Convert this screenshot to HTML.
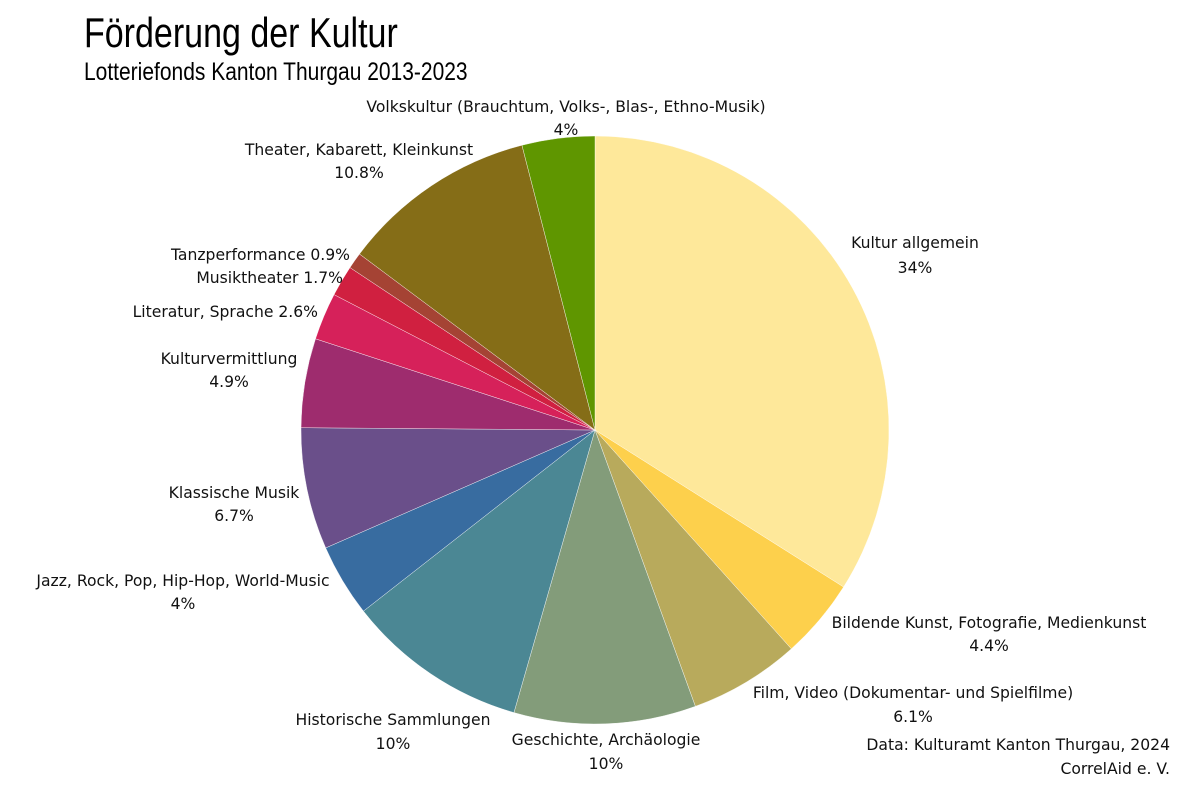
<!DOCTYPE html>
<html><head><meta charset="utf-8"><style>
body{margin:0;background:#fff;width:1186px;height:790px;overflow:hidden}
svg text{font-family:"DejaVu Sans","Liberation Sans",sans-serif;font-size:15.6px;fill:#111}
.t{font-family:"Liberation Sans",sans-serif!important;font-size:42px;fill:#000}
.s{font-family:"Liberation Sans",sans-serif!important;font-size:25px;fill:#000}
</style></head><body>
<svg id="c" width="1186" height="790" xmlns="http://www.w3.org/2000/svg">
<text class="t" x="84" y="47" transform="translate(84 0) scale(0.81 1) translate(-84 0)">Förderung der Kultur</text>
<text class="s" x="84" y="80" transform="translate(84 0) scale(0.84 1) translate(-84 0)">Lotteriefonds Kanton Thurgau 2013-2023</text>
<g id="pie"></g>
<g text-anchor="middle">
<text x="566" y="112">Volkskultur (Brauchtum, Volks-, Blas-, Ethno-Musik)</text>
<text x="566" y="135">4%</text>
<text x="359" y="155">Theater, Kabarett, Kleinkunst</text>
<text x="359" y="178">10.8%</text>
<text x="915" y="248">Kultur allgemein</text>
<text x="915" y="273">34%</text>
<text x="989" y="628">Bildende Kunst, Fotografie, Medienkunst</text>
<text x="989" y="651">4.4%</text>
<text x="913" y="698">Film, Video (Dokumentar- und Spielfilme)</text>
<text x="913" y="722">6.1%</text>
<text x="606" y="745">Geschichte, Archäologie</text>
<text x="606" y="769">10%</text>
<text x="393" y="725">Historische Sammlungen</text>
<text x="393" y="749">10%</text>
<text x="183" y="586">Jazz, Rock, Pop, Hip-Hop, World-Music</text>
<text x="183" y="609">4%</text>
<text x="234" y="498">Klassische Musik</text>
<text x="234" y="521">6.7%</text>
<text x="229" y="364">Kulturvermittlung</text>
<text x="229" y="387">4.9%</text>
</g>
<g text-anchor="end">
<text x="350" y="260">Tanzperformance  0.9%</text>
<text x="343" y="283">Musiktheater  1.7%</text>
<text x="318" y="317">Literatur, Sprache  2.6%</text>
<text x="1170" y="750">Data: Kulturamt Kanton Thurgau, 2024</text>
<text x="1170" y="774">CorrelAid e. V.</text>
</g>
</svg>
<script>
var d=[[34,"#FEE89A"],[4.4,"#FDD04C"],[6.1,"#B8AA5C"],[10,"#839C7A"],[10,"#4B8794"],[4,"#386CA0"],[6.7,"#6A4F8A"],[4.9,"#9E2C6E"],[2.6,"#D6215A"],[1.7,"#D02040"],[0.9,"#A54334"],[10.8,"#856D17"],[4,"#5F9600"]];
var tot=0;d.forEach(function(x){tot+=x[0]});
var cx=595,cy=430,r=294,a=0,g=document.getElementById("pie"),s="";
d.forEach(function(x){var b=a+x[0]/tot*2*Math.PI;
var x1=cx+r*Math.sin(a),y1=cy-r*Math.cos(a),x2=cx+r*Math.sin(b),y2=cy-r*Math.cos(b);
s+='<path d="M'+cx+' '+cy+'L'+x1+' '+y1+'A'+r+' '+r+' 0 '+(b-a>Math.PI?1:0)+' 1 '+x2+' '+y2+'Z" fill="'+x[1]+'" stroke="#fff" stroke-width="0.4"/>';a=b;});
g.innerHTML=s;
</script>
</body></html>
